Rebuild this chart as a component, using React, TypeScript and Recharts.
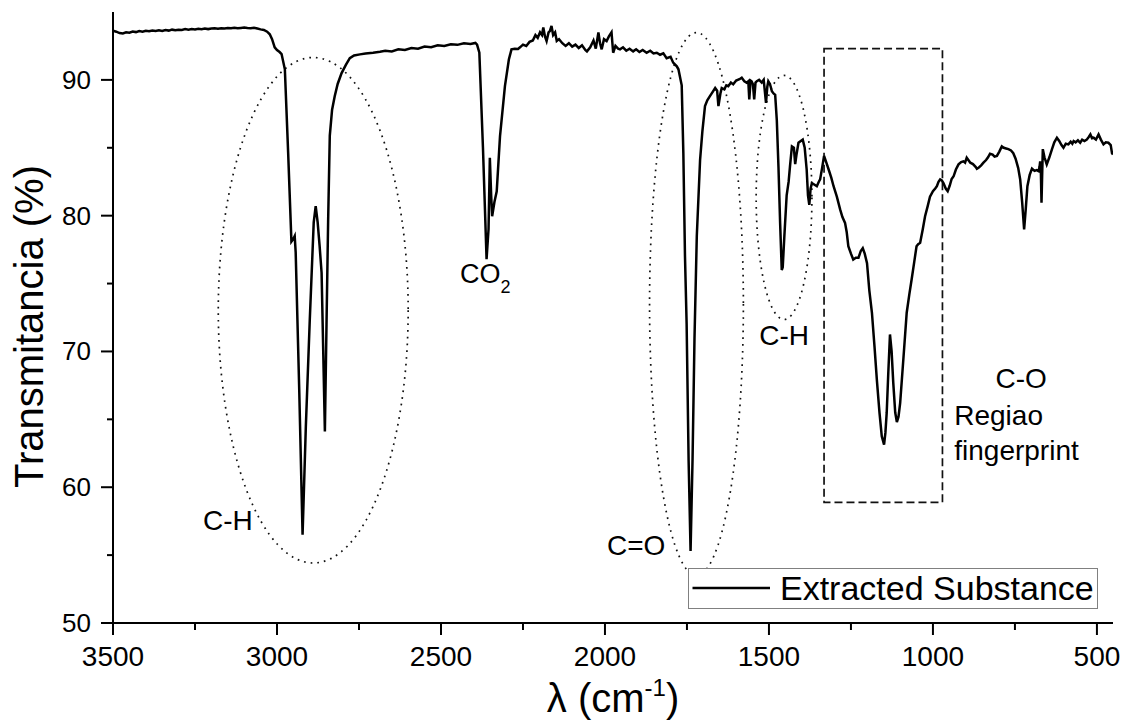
import React from 'react';
import { LineChart, Line, XAxis, YAxis, ReferenceArea, ReferenceDot, Legend } from 'recharts';

const FONT = '"Liberation Sans", Arial, Helvetica, sans-serif';

// [wavenumber (cm-1), transmittance (%)]
const spectrumCH: [number, number][] = [
  [3500, 93.62], [3490, 93.55], [3480, 93.45], [3470, 93.42], [3460, 93.5], [3450, 93.48],
  [3440, 93.56], [3430, 93.52], [3420, 93.6], [3410, 93.55], [3400, 93.62], [3390, 93.58],
  [3380, 93.64], [3370, 93.6], [3360, 93.66], [3350, 93.6], [3340, 93.67], [3330, 93.63],
  [3320, 93.7], [3310, 93.65], [3300, 93.7], [3290, 93.68], [3280, 93.74], [3270, 93.7],
  [3260, 93.74], [3250, 93.72], [3240, 93.76], [3230, 93.73], [3220, 93.78], [3210, 93.74],
  [3200, 93.78], [3190, 93.8], [3180, 93.77], [3170, 93.81], [3160, 93.78], [3150, 93.82],
  [3140, 93.8], [3130, 93.84], [3120, 93.8], [3110, 93.83], [3100, 93.85], [3090, 93.82],
  [3080, 93.8], [3070, 93.84], [3060, 93.78], [3050, 93.72], [3040, 93.68], [3030, 93.55],
  [3022, 93.36], [3015, 93.0], [3007, 92.4], [3000, 92.2], [2992, 92.05], [2986, 91.9],
  [2976, 90.78], [2966, 84.66], [2956, 78.1], [2950, 78.3], [2946, 78.5], [2943, 77.3],
  [2932, 67.0], [2922, 56.5], [2912, 64.5], [2900, 72.35], [2888, 79.5], [2882, 80.7],
  [2876, 79.5], [2870, 77.75], [2864, 75.8], [2859, 70.0], [2854, 64.1], [2849, 72.0],
  [2844, 79.7], [2839, 85.9], [2832, 87.8], [2824, 88.8], [2815, 89.7], [2803, 90.5],
  [2790, 91.1], [2778, 91.6], [2765, 91.8], [2747, 91.88], [2730, 91.95], [2707, 92.0],
  [2686, 92.08], [2670, 92.15], [2650, 92.1], [2630, 92.25], [2610, 92.2], [2590, 92.35],
  [2570, 92.3], [2550, 92.45], [2530, 92.4], [2510, 92.55], [2490, 92.5], [2470, 92.62],
  [2450, 92.58], [2430, 92.7], [2410, 92.65], [2395, 92.72],
];

const spectrumCO2: [number, number][] = [
  [2390, 92.6], [2383, 92.0], [2372, 85.0], [2361, 76.8], [2355, 79.0], [2351, 84.27],
  [2347, 81.5], [2344, 79.96], [2337, 81.0], [2330, 81.8], [2320, 85.86], [2305, 89.54],
  [2293, 91.5], [2285, 92.25], [2275, 92.3], [2265, 92.28], [2259, 92.4], [2250, 92.6],
  [2240, 92.5], [2230, 92.8], [2220, 92.9], [2212, 93.3], [2205, 93.1], [2198, 93.5],
  [2192, 93.3], [2188, 93.86], [2183, 93.2], [2178, 92.86], [2172, 93.5], [2168, 93.6],
  [2163, 93.98], [2158, 93.3], [2152, 93.5], [2147, 92.86], [2140, 93.0], [2130, 92.7],
  [2120, 92.5], [2110, 92.7], [2100, 92.45], [2090, 92.6], [2080, 92.35], [2070, 92.55],
  [2060, 92.2], [2055, 92.1], [2045, 92.4], [2035, 92.9], [2028, 92.3], [2020, 93.5],
  [2015, 92.7], [2010, 92.25], [2003, 93.0], [1995, 92.86], [1988, 93.2], [1980, 93.5],
  [1975, 92.0], [1968, 92.5], [1960, 92.3], [1954, 92.25], [1945, 92.4], [1935, 92.15],
  [1925, 92.3], [1914, 92.1], [1905, 92.25], [1895, 92.05], [1885, 92.2], [1873, 92.0],
  [1862, 92.15], [1852, 91.95], [1842, 92.0], [1832, 91.85], [1822, 91.95], [1812, 91.6],
  [1800, 91.7], [1792, 91.27],
];

const spectrumCarbonyl: [number, number][] = [
  [1781, 91.0], [1776, 90.78], [1766, 89.6], [1761, 84.6], [1756, 77.0], [1751, 72.0],
  [1745, 62.0], [1739, 55.3], [1733, 62.0], [1727, 71.0], [1720, 78.5], [1710, 84.1],
  [1703, 86.2], [1695, 88.07], [1688, 88.5], [1680, 88.8], [1672, 89.1], [1664, 89.4],
  [1658, 89.2], [1654, 88.07], [1648, 89.0], [1644, 89.4], [1636, 89.3], [1630, 89.6],
  [1624, 89.54], [1616, 89.8], [1609, 89.67], [1600, 89.95], [1590, 90.05], [1583, 90.16],
  [1575, 89.9], [1568, 89.8], [1563, 89.9], [1560, 88.56], [1556, 89.95], [1553, 89.9],
  [1549, 89.7], [1545, 88.56], [1541, 89.8], [1537, 89.9], [1530, 90.0], [1522, 89.8],
  [1516, 90.0], [1509, 88.3], [1505, 89.5], [1502, 89.9], [1497, 89.7], [1491, 89.16],
  [1486, 89.0], [1481, 88.9], [1476, 87.0], [1471, 83.6], [1466, 79.5], [1461, 76.0],
  [1458, 76.2], [1453, 78.5], [1446, 81.5], [1440, 82.5], [1436, 83.6], [1430, 85.1],
  [1424, 85.0], [1420, 83.8], [1416, 84.5], [1410, 85.37], [1403, 85.5], [1397, 85.6],
  [1391, 85.0], [1385, 83.4], [1381, 81.5], [1377, 80.8], [1373, 82.0], [1369, 82.4],
  [1362, 82.3], [1354, 82.17], [1348, 82.5], [1344, 82.67], [1338, 83.5],
];

const spectrumFingerprint: [number, number][] = [
  [1332, 84.4], [1325, 83.9], [1318, 83.4], [1310, 82.8], [1303, 82.17], [1293, 81.4],
  [1283, 80.46], [1276, 79.9], [1268, 79.47], [1263, 78.8], [1258, 77.75], [1250, 77.2],
  [1243, 76.77], [1235, 76.9], [1227, 76.9], [1220, 77.4], [1214, 77.6], [1208, 77.2],
  [1201, 76.5], [1194, 74.5], [1186, 72.85], [1178, 70.3], [1171, 67.9], [1163, 65.5],
  [1156, 63.75], [1149, 63.14], [1145, 64.0], [1141, 65.47], [1136, 68.5], [1131, 71.25],
  [1126, 70.0], [1121, 67.7], [1115, 65.5], [1110, 64.8], [1105, 65.2], [1100, 66.2],
  [1090, 69.5], [1080, 72.85], [1072, 74.2], [1065, 75.3], [1057, 76.6], [1050, 77.75],
  [1045, 77.9], [1039, 78.0], [1031, 79.0], [1024, 79.96], [1016, 80.7], [1009, 81.4],
  [1000, 81.8], [993, 82.0], [988, 82.17], [983, 82.5], [978, 82.67], [973, 82.6],
  [968, 82.4], [961, 82.0], [955, 81.8], [949, 82.2], [943, 82.7], [937, 82.9],
  [930, 83.4], [922, 83.78], [914, 83.95], [907, 84.0], [902, 83.9], [897, 84.27],
  [892, 84.1], [886, 83.9], [878, 83.8], [870, 83.6], [866, 83.46], [860, 83.55],
  [853, 83.7], [846, 83.9], [838, 84.1], [832, 84.3], [826, 84.56], [818, 84.5],
  [812, 84.35], [805, 84.4], [798, 84.7], [790, 85.1], [784, 85.0], [777, 84.95],
  [770, 84.9], [762, 84.8], [755, 84.6], [748, 84.2], [740, 83.5], [734, 82.67],
  [728, 81.0], [722, 78.98], [717, 80.5], [712, 82.17], [705, 83.0], [698, 83.46],
  [690, 83.3], [684, 83.35], [678, 83.28], [675, 83.6], [673, 84.0], [671, 83.3],
  [669, 80.95], [667, 83.0], [665, 84.9], [660, 84.3], [653, 83.78], [645, 84.3],
  [637, 84.9], [630, 85.4], [622, 85.74], [615, 85.5], [608, 85.2], [602, 85.0],
  [595, 85.3], [587, 85.25], [580, 85.45], [575, 85.3], [571, 85.5], [565, 85.4],
  [558, 85.55], [551, 85.37], [545, 85.6], [538, 85.5], [531, 85.6], [525, 85.8],
  [520, 85.98], [515, 85.7], [510, 85.74], [503, 85.6], [495, 85.98], [488, 85.6],
  [480, 85.25], [473, 85.4], [465, 85.37], [458, 85.2], [454, 84.6], [451, 84.5],
];

const xDomain: [number, number] = [451, 3500];
const yDomain: [number, number] = [50, 95];
const xTicks = [3500, 3250, 3000, 2750, 2500, 2250, 2000, 1750, 1500, 1250, 1000, 750, 500];
const xMajorTicks = [3500, 3000, 2500, 2000, 1500, 1000, 500];
const yTicks = [50, 55, 60, 65, 70, 75, 80, 85, 90];
const yMajorTicks = [50, 60, 70, 80, 90];

const seriesName = 'Extracted Substance';

// dotted ellipses around bands (x1, x2 in cm-1; y1, y2 in %)
const bandEllipses = [
  { x1: 3179, x2: 2600, y1: 54.42, y2: 91.65 },
  { x1: 1864, x2: 1578, y1: 53.5, y2: 93.48 },
  { x1: 1539, x2: 1369, y1: 72.35, y2: 90.33 },
];
const fingerprintBox = { x1: 1332, x2: 971, y1: 58.89, y2: 92.3 };

const annotations = [
  { text: 'C-H', sub: '', x: 3150, y: 56.82, anchor: 'middle' },
  { text: 'CO', sub: '2', x: 2442, y: 75.06, anchor: 'start' },
  { text: 'C=O', sub: '', x: 1905, y: 55.03, anchor: 'middle' },
  { text: 'C-H', sub: '', x: 1454, y: 70.51, anchor: 'middle' },
  { text: 'C-O', sub: '', x: 731, y: 67.32, anchor: 'middle' },
  { text: 'Regiao', sub: '', x: 935, y: 64.61, anchor: 'start' },
  { text: 'fingerprint', sub: '', x: 935, y: 62.03, anchor: 'start' },
];

const data = [...spectrumCH, ...spectrumCO2, ...spectrumCarbonyl, ...spectrumFingerprint].map(
  ([x, t]) => ({ x, t })
);

const BottomTick = (props: any) => {
  const { x, y, payload } = props;
  const major = xMajorTicks.includes(payload.value);
  return (
    <g>
      <line x1={x} x2={x} y1={y} y2={y + (major ? 12 : 7)} stroke="#000" strokeWidth={2} />
      {major && (
        <text x={x} y={y + 43} textAnchor="middle" fontSize={28} fontFamily={FONT} fill="#000">
          {payload.value}
        </text>
      )}
    </g>
  );
};

const TopTick = (props: any) => {
  const { x, y, payload } = props;
  const major = xMajorTicks.includes(payload.value);
  return <line x1={x} x2={x} y1={y} y2={y + (major ? 12 : 6)} stroke="#000" strokeWidth={2} />;
};

const LeftTick = (props: any) => {
  const { x, y, payload } = props;
  const major = yMajorTicks.includes(payload.value);
  return (
    <g>
      <line x1={x - (major ? 12 : 6)} x2={x} y1={y} y2={y} stroke="#000" strokeWidth={2} />
      {major && (
        <text x={x - 22} y={y + 9} textAnchor="end" fontSize={26} fontFamily={FONT} fill="#000">
          {payload.value}
        </text>
      )}
    </g>
  );
};

const XTitle = (props: any) => {
  const vb = props.viewBox || { x: 105, y: 615, width: 1000 };
  const cx = vb.x + vb.width / 2;
  const by = vb.y + 89;
  return (
    <text x={cx} y={by} textAnchor="middle" fontSize={40} fontFamily={FONT} fill="#000">
      λ (cm
      <tspan fontSize={24} dy={-16}>-1</tspan>
      <tspan dy={16}>)</tspan>
    </text>
  );
};

const YTitle = (props: any) => {
  const vb = props.viewBox || { x: 0, y: 4, width: 105, height: 611 };
  const tx = vb.x + 35;
  const ty = vb.y + vb.height / 2 + 9;
  return (
    <text
      x={tx}
      y={ty}
      transform={`rotate(-90, ${tx}, ${ty})`}
      textAnchor="middle"
      fontSize={40}
      fontFamily={FONT}
      fill="#000"
    >
      Transmitancia (%)
    </text>
  );
};

const LegendBox = () => (
  <svg width={410} height={41} style={{ display: 'block' }}>
    <rect x={0.5} y={0.5} width={409} height={40} fill="#fff" stroke="#808080" strokeWidth={1} />
    <line x1={4.5} x2={82} y1={20} y2={20} stroke="#000" strokeWidth={2.5} />
    <text x={92} y={31.7} fontSize={34} fontFamily={FONT} fill="#000">
      {seriesName}
    </text>
  </svg>
);

export default function App() {
  return (
    <div style={{ paddingLeft: 8, paddingTop: 8, width: 1116, height: 715 }}>
      <style>{'html,body{margin:0;padding:0;overflow:hidden}.recharts-surface{overflow:visible}'}</style>
      <LineChart
        width={1116}
        height={715}
        data={data}
        margin={{ top: 4, right: 11, bottom: 0, left: 0 }}
      >
        <XAxis
          xAxisId="bottom"
          dataKey="x"
          type="number"
          orientation="bottom"
          domain={xDomain}
          reversed
          allowDataOverflow
          ticks={xTicks}
          interval={0}
          tickSize={0}
          tickMargin={0}
          tickLine={false}
          tick={<BottomTick />}
          axisLine={{ stroke: '#000', strokeWidth: 2 }}
          height={100}
          label={<XTitle />}
        />
        <XAxis
          xAxisId="top"
          dataKey="x"
          type="number"
          orientation="top"
          domain={xDomain}
          reversed
          allowDataOverflow
          ticks={xTicks}
          interval={0}
          tickSize={0}
          tickMargin={0}
          tickLine={false}
          tick={<TopTick />}
          axisLine={{ stroke: '#000', strokeWidth: 2 }}
          height={0}
        />
        <YAxis
          yAxisId="left"
          type="number"
          domain={yDomain}
          allowDataOverflow
          ticks={yTicks}
          interval={0}
          tickSize={0}
          tickMargin={0}
          tickLine={false}
          tick={<LeftTick />}
          axisLine={{ stroke: '#000', strokeWidth: 2 }}
          width={105}
          label={<YTitle />}
        />
        <YAxis
          yAxisId="right"
          orientation="right"
          type="number"
          domain={yDomain}
          allowDataOverflow
          tick={false}
          tickLine={false}
          axisLine={{ stroke: '#000', strokeWidth: 2 }}
          width={0}
        />
        {bandEllipses.map((e, i) => (
          <ReferenceArea
            key={`ell-${i}`}
            xAxisId="bottom"
            yAxisId="left"
            x1={e.x1}
            x2={e.x2}
            y1={e.y1}
            y2={e.y2}
            ifOverflow="visible"
            shape={(p: any) => (
              <ellipse
                cx={p.x + p.width / 2}
                cy={p.y + p.height / 2}
                rx={Math.abs(p.width) / 2}
                ry={Math.abs(p.height) / 2}
                fill="none"
                stroke="#111"
                strokeWidth={1.7}
                strokeDasharray="1.7 5"
              />
            )}
          />
        ))}
        <ReferenceArea
          xAxisId="bottom"
          yAxisId="left"
          x1={fingerprintBox.x1}
          x2={fingerprintBox.x2}
          y1={fingerprintBox.y1}
          y2={fingerprintBox.y2}
          ifOverflow="visible"
          shape={(p: any) => (
            <rect
              x={p.x}
              y={p.y}
              width={p.width}
              height={p.height}
              fill="none"
              stroke="#111"
              strokeWidth={1.7}
              strokeDasharray="8 4"
            />
          )}
        />
        <Line
          xAxisId="bottom"
          yAxisId="left"
          dataKey="t"
          name={seriesName}
          type="linear"
          stroke="#000"
          strokeWidth={2.5}
          dot={false}
          activeDot={false}
          isAnimationActive={false}
        />
        {annotations.map((a, i) => (
          <ReferenceDot
            key={`ann-${i}`}
            xAxisId="bottom"
            yAxisId="left"
            x={a.x}
            y={a.y}
            r={0}
            ifOverflow="visible"
            shape={(p: any) => (
              <text
                x={p.cx}
                y={p.cy}
                textAnchor={a.anchor as any}
                fontSize={a.sub ? 27 : 28}
                fontFamily={FONT}
                fill="#000"
              >
                {a.text}
                {a.sub && (
                  <tspan fontSize={18} dy={10}>
                    {a.sub}
                  </tspan>
                )}
              </text>
            )}
          />
        ))}
        <Legend
          layout="horizontal"
          verticalAlign="middle"
          align="center"
          content={() => <LegendBox />}
          wrapperStyle={{ position: 'absolute', left: 680, top: 560, width: 410, height: 41 }}
        />
      </LineChart>
    </div>
  );
}
